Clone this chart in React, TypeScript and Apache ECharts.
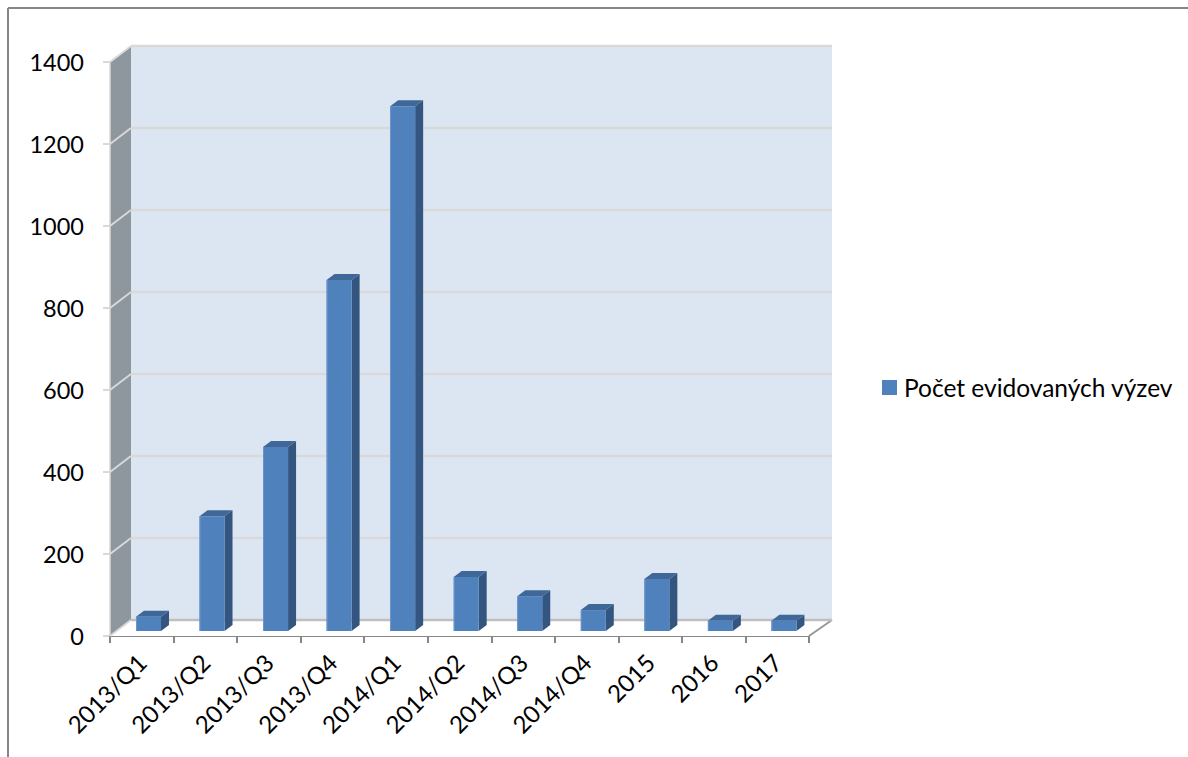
import React, { useEffect, useRef } from "react";
import * as echarts from "echarts";

const categories = ["2013/Q1", "2013/Q2", "2013/Q3", "2013/Q4", "2014/Q1", "2014/Q2", "2014/Q3", "2014/Q4", "2015", "2016", "2017"];
const values = [35, 280, 449, 856, 1280, 132, 85, 51, 127, 25, 25];
const yTicks = [0, 200, 400, 600, 800, 1000, 1200, 1400];
const seriesName = "Počet evidovaných výzev";

const FONT = "Lato";
const DX = 21;
const RIGHT_DX = 23;
const DY = -16;
const BAR_W = 25;
const BAR_DX = 8;
const BAR_DY = -6;
const BASE_DX = 6.7;
const BASE_DY = -5;

export default function App() {
  const ref = useRef<HTMLDivElement>(null);
  useEffect(() => {
    const chart = echarts.init(ref.current!, null, { renderer: "svg" });
    const poly = (points: number[][], fill: string, stroke?: string, lineWidth = 1) => ({
      type: "polygon",
      shape: { points },
      style: { fill, stroke: stroke ?? "none", lineWidth },
    });
    const line = (a: number[], b: number[], stroke: string, lineWidth: number) => ({
      type: "line",
      shape: { x1: a[0], y1: a[1], x2: b[0], y2: b[1] },
      style: { stroke, lineWidth },
    });
    chart.setOption({
      animation: false,
      backgroundColor: "#ffffff",
      grid: { left: 110, top: 62, width: 699, height: 574, containLabel: false },
      legend: {
        left: 877,
        top: 370,
        itemWidth: 15,
        itemHeight: 15,
        itemGap: 5,
        icon: "rect",
        data: [{ name: seriesName, itemStyle: { color: "#4F81BD" } }],
        textStyle: { fontFamily: FONT, fontSize: 24.5, color: "#000000", padding: [0, 0, 0, 2] },
      },
      xAxis: {
        type: "category",
        data: categories,
        boundaryGap: true,
        axisLine: { show: true, lineStyle: { color: "#868686", width: 2 } },
        axisTick: { show: true, length: 7, alignWithLabel: false, lineStyle: { color: "#868686", width: 2 } },
        axisLabel: { rotate: 45, interval: 0, margin: 22, fontFamily: FONT, fontSize: 24, color: "#000000" },
      },
      yAxis: {
        type: "value",
        min: 0,
        max: 1400,
        interval: 200,
        axisLine: { show: false },
        axisTick: { show: true, length: 7, lineStyle: { color: "#D9D9D9", width: 2 } },
        splitLine: { show: false },
        axisLabel: { margin: 26, fontFamily: FONT, fontSize: 23.5, color: "#000000", formatter: (v: number) => String(v) },
      },
      graphic: [
        { type: "line", silent: true, shape: { x1: 8, y1: 8, x2: 1188, y2: 8 }, style: { stroke: "#868686", lineWidth: 2 } },
        { type: "line", silent: true, shape: { x1: 8, y1: 8, x2: 8, y2: 757 }, style: { stroke: "#868686", lineWidth: 2 } },
      ],
      series: [
        {
          type: "custom",
          z: 1,
          silent: true,
          data: [[0]],
          encode: { x: -1, y: -1 },
          renderItem: (_p: any, api: any) => {
            const bottom = api.coord([0, 0])[1];
            const top = api.coord([0, 1400])[1];
            const band = api.size([1, 0])[0];
            const left = api.coord([0, 0])[0] - band / 2;
            const right = left + band * categories.length;
            return {
              type: "group",
              children: [
                poly([[left, bottom], [left + DX, bottom + DY], [right + RIGHT_DX, bottom + DY], [right, bottom]], "#FFFFFF"),
                poly([[left + DX, top + DY], [right + RIGHT_DX, top + DY], [right + RIGHT_DX, bottom + DY], [left + DX, bottom + DY]], "#DCE6F2"),
                poly([[left, top], [left + DX, top + DY], [left + DX, bottom + DY], [left, bottom]], "#8E969E"),
                line([right, bottom], [right + RIGHT_DX, bottom + DY], "#969696", 2),
                line([left, top], [left, bottom], "#D9D9D9", 1.5),
              ],
            };
          },
        },
        {
          type: "custom",
          z: 2,
          silent: true,
          data: yTicks.map((t) => [t]),
          encode: { x: -1, y: 0 },
          renderItem: (_p: any, api: any) => {
            const y = api.coord([0, api.value(0)])[1];
            const band = api.size([1, 0])[0];
            const left = api.coord([0, 0])[0] - band / 2;
            const right = left + band * categories.length;
            const stroke = api.value(0) === 0 ? "#BFBFBF" : "#D9D9D9";
            return {
              type: "group",
              children: [
                line([left, y], [left + DX, y + DY], "#D9D9D9", 2),
                line([left + DX, y + DY], [right + RIGHT_DX, y + DY], stroke, 2.5),
              ],
            };
          },
        },
        {
          type: "custom",
          name: seriesName,
          z: 3,
          itemStyle: { color: "#4F81BD" },
          data: values.map((v, i) => [i, v]),
          encode: { x: 0, y: 1 },
          renderItem: (_p: any, api: any) => {
            const c = api.coord([api.value(0), 0]);
            const t = api.coord([api.value(0), api.value(1)]);
            const x0 = c[0] + BASE_DX - BAR_W / 2;
            const x1 = x0 + BAR_W;
            const yb = c[1] + BASE_DY;
            const yt = t[1] + BASE_DY;
            return {
              type: "group",
              children: [
                poly([[x1, yt], [x1 + BAR_DX, yt + BAR_DY], [x1 + BAR_DX, yb + BAR_DY], [x1, yb]], "#34557F"),
                poly([[x0, yt], [x0 + BAR_DX, yt + BAR_DY], [x1 + BAR_DX, yt + BAR_DY], [x1, yt]], "#3F6797"),
                poly([[x0, yt], [x1, yt], [x1, yb], [x0, yb]], "#4F81BD"),
                line([x0 + 0.5, yt], [x0 + 0.5, yb], "#6A96CC", 1),
              ],
            };
          },
        },
      ],
    });
    return () => chart.dispose();
  }, []);
  return <div ref={ref} style={{ position: "absolute", left: 0, top: 0, width: 1188, height: 757 }} />;
}
